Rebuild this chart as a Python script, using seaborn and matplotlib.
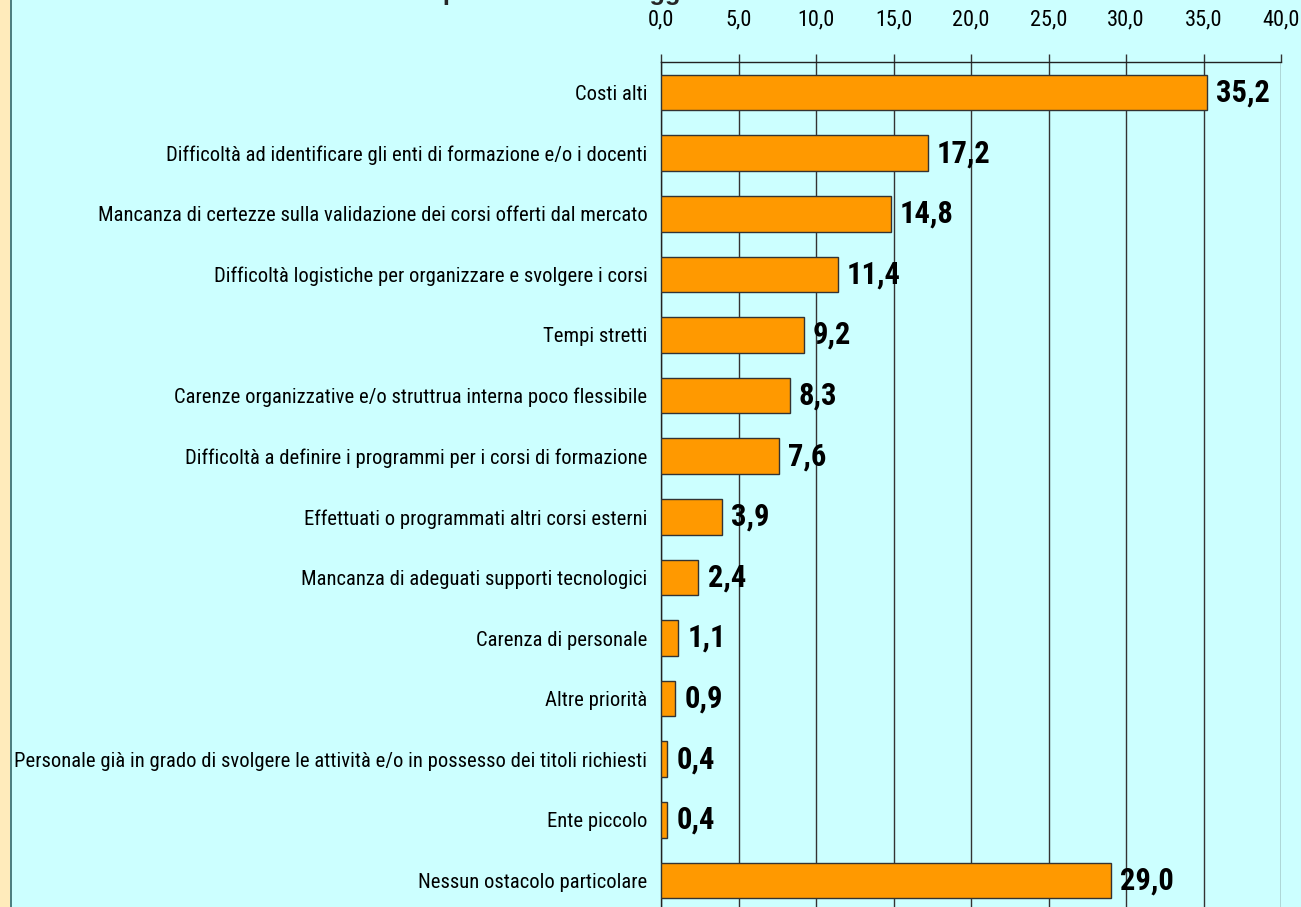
import matplotlib
matplotlib.use("Agg")
import matplotlib.pyplot as plt
import seaborn as sns
import pandas as pd
from matplotlib import font_manager
from matplotlib.ticker import FixedLocator, FuncFormatter

categorie = [
    "Costi alti",
    "Difficoltà ad identificare gli enti di formazione e/o i docenti",
    "Mancanza di certezze sulla validazione dei corsi offerti dal mercato",
    "Difficoltà logistiche per organizzare e svolgere i corsi",
    "Tempi stretti",
    "Carenze organizzative e/o struttrua interna poco flessibile",
    "Difficoltà a definire i programmi per i corsi di formazione",
    "Effettuati o programmati altri corsi esterni",
    "Mancanza di adeguati supporti tecnologici",
    "Carenza di personale",
    "Altre priorità",
    "Personale già in grado di svolgere le attività e/o in possesso dei titoli richiesti",
    "Ente piccolo",
    "Nessun ostacolo particolare",
]
valori = [35.2, 17.2, 14.8, 11.4, 9.2, 8.3, 7.6, 3.9, 2.4, 1.1, 0.9, 0.4, 0.4, 29.0]
tick_x = [0, 5, 10, 15, 20, 25, 30, 35, 40]
titolo_prima = "Ostacoli "
titolo = "Ostacoli per le attività di aggiornamento"

df = pd.DataFrame({"ostacolo": categorie, "percentuale": valori})

sns.set_style("white")

# font stretto se disponibile, altrimenti Liberation Sans più piccolo
installati = {f.name for f in font_manager.fontManager.ttflist}
stretto = None
for nome in ["Liberation Sans Narrow", "Arial Narrow", "Roboto Condensed",
             "DejaVu Sans Condensed", "Open Sans Condensed"]:
    if nome in installati:
        stretto = nome
        break
if stretto:
    plt.rcParams["font.family"] = [stretto, "Liberation Sans", "DejaVu Sans"]
    fs_cat, fs_tick, fs_val = 14.9, 16, 22
else:
    plt.rcParams["font.family"] = ["Liberation Sans", "DejaVu Sans"]
    fs_cat, fs_tick, fs_val = 13.6, 14.5, 20

sfondo = "#CCFFFF"
fig = plt.figure(figsize=(13.01, 9.07), dpi=100, facecolor=sfondo)

# striscia a sinistra
fig.patches.append(plt.Rectangle((0, 0), 10 / 1301, 1, transform=fig.transFigure,
                                 facecolor="#FFEBBB", edgecolor="none", zorder=0))
fig.patches.append(plt.Rectangle((10 / 1301, 0), 2 / 1301, 1, transform=fig.transFigure,
                                 facecolor="#4E7F80", edgecolor="none", zorder=0))

ax = fig.add_axes([661.3 / 1301, 1 - 910.7 / 907, (1281 - 661.3) / 1301, (910.7 - 62.3) / 907])
ax.set_facecolor(sfondo)

sns.barplot(data=df, x="percentuale", y="ostacolo", orient="h", color="#FF9900",
            width=0.59, edgecolor="#333333", linewidth=1, saturation=1, ax=ax, zorder=3)

ax.set_xlim(0, 40)
ax.set_ylim(13.5, -0.5)
ax.set_xlabel("")
ax.set_ylabel("")

# asse x in alto
ax.xaxis.tick_top()
ax.set_xticks(tick_x)
ax.xaxis.set_major_formatter(FuncFormatter(lambda v, p: f"{v:.1f}".replace(".", ",")))
ax.tick_params(axis="x", direction="out", length=6, width=1, color="#333333",
               pad=17, labelsize=fs_tick, labelcolor="black")
ax.grid(axis="x", color="#333333", linewidth=1, zorder=1)
ax.set_axisbelow(True)

# asse y: etichette senza tacche, tacche ai confini delle categorie
ax.tick_params(axis="y", which="major", length=0, pad=10, labelsize=fs_cat, labelcolor="black")
ax.yaxis.set_minor_locator(FixedLocator([i - 0.5 for i in range(len(categorie) + 1)]))
ax.tick_params(axis="y", which="minor", direction="out", length=6, width=1, color="#333333")

for s in ["bottom", "right"]:
    ax.spines[s].set_visible(False)
for s in ["top", "left"]:
    ax.spines[s].set_color("#222222")
    ax.spines[s].set_linewidth(1)

for i, v in enumerate(valori):
    ax.annotate(f"{v:.1f}".replace(".", ","), (v, i), xytext=(6.5, 0),
                textcoords="offset points", va="center", ha="left",
                fontsize=fs_val, fontweight="bold", color="black", zorder=5)

# titolo (tagliato dal bordo superiore): la "p" deve cadere a x = 443 px
stile_titolo = dict(fontsize=18.3, fontweight="bold", family=["Liberation Sans", "DejaVu Sans"])
renderer = fig.canvas.get_renderer()
prova = fig.text(0, 0, titolo_prima.replace(" ", "\u00a0"), **stile_titolo)
larghezza = prova.get_window_extent(renderer).width
prova.remove()
fig.text((443 - larghezza) / 1301, 1 + 0.5 / 907, titolo, ha="left", va="baseline",
         **stile_titolo)

fig.savefig("out.png", dpi=100, facecolor=sfondo)
